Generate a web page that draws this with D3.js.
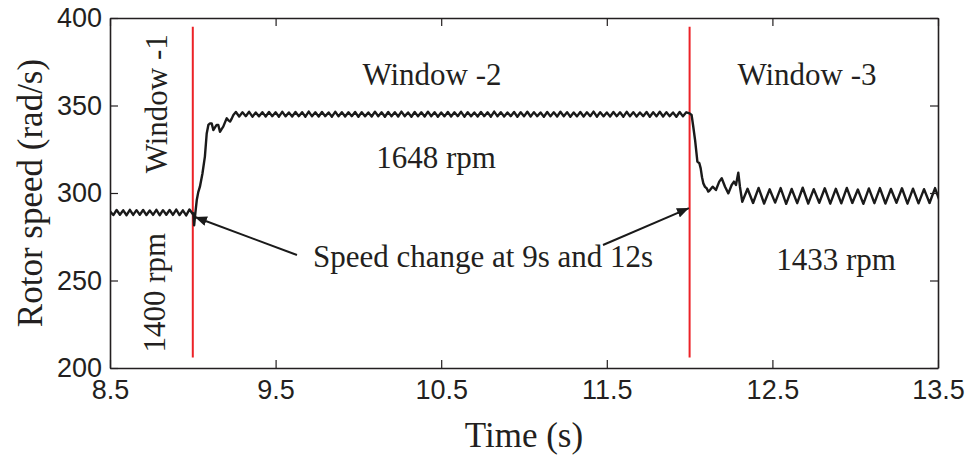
<!DOCTYPE html>
<html>
<head>
<meta charset="utf-8">
<script src="https://cdn.jsdelivr.net/npm/d3@7.9.0/dist/d3.min.js"></script>
<style>
  body { margin: 0; background: #fff; }
  svg { display: block; }
  .tick text { font-family: "Liberation Sans", Arial, sans-serif; font-size: 27px; fill: #231f20; }
  .ann { font-family: "Liberation Serif", "Times New Roman", serif; fill: #231f20; }
</style>
</head>
<body>
<svg id="chart" width="968" height="456"></svg>
<script>
// axis ticks
const xTicks = [8.5, 9.5, 10.5, 11.5, 12.5, 13.5];
const yTicks = [200, 250, 300, 350, 400];

// window 1 (1400 rpm), sampled every 0.02 s from 8.5 s
const win1Start = 8.5, win1Step = 0.02;
const win1Speed = [289.5, 287.4, 290.3, 287.6, 290.1, 287.3, 290.4, 287.5, 290.2, 287.6,
                   290.3, 287.4, 290.0, 287.5, 290.4, 287.3, 290.2, 287.6, 290.3, 287.5,
                   290.5, 287.4, 290.1, 287.2, 290.6, 288.0];

// step up at 9 s
const rise1Time = [9.003, 9.008, 9.016, 9.024, 9.033, 9.043, 9.058, 9.073, 9.084, 9.094,
                   9.104, 9.114, 9.124, 9.134, 9.144, 9.154, 9.164, 9.174, 9.184, 9.195,
                   9.205, 9.215, 9.225, 9.235, 9.245];
const rise1Speed = [288.4, 281.5, 289.0, 296.0, 300.5, 303.6, 311.0, 320.8, 334.0, 338.9,
                    339.8, 339.8, 336.0, 337.5, 338.9, 338.9, 335.0, 336.5, 337.9, 340.5,
                    342.7, 341.5, 340.8, 342.5, 344.6];

// window 2 (1648 rpm), every 0.02 s from 9.26 s
const win2Start = 9.26, win2Step = 0.02;
const win2Speed = [346.3, 343.7, 346.1, 343.9, 346.4, 343.6, 346.0, 343.8, 346.2, 343.7,
                   346.3, 343.9, 346.1, 343.6, 346.4, 343.8, 346.0, 343.7, 346.3, 343.9,
                   346.2, 343.6, 346.5, 343.8, 346.1, 343.7, 346.3, 343.9, 346.0, 343.6,
                   346.4, 343.8, 346.2, 343.7, 346.1, 343.9, 346.3, 343.6, 346.2, 343.8,
                   346.0, 343.7, 346.4, 343.9, 346.1, 343.6, 346.3, 343.8, 346.2, 343.7,
                   346.5, 343.9, 346.0, 343.6, 346.3, 343.8, 346.1, 343.7, 346.4, 343.9,
                   346.2, 343.6, 346.0, 343.8, 346.3, 343.7, 346.1, 343.9, 346.4, 343.6,
                   346.2, 343.8, 346.0, 343.7, 346.3, 343.9, 346.1, 343.6, 346.5, 343.8,
                   346.2, 343.7, 346.0, 343.9, 346.3, 343.6, 346.1, 343.8, 346.4, 343.7,
                   346.2, 343.9, 346.0, 343.6, 346.3, 343.8, 346.1, 343.7, 346.4, 343.9,
                   346.2, 343.6, 346.0, 343.8, 346.3, 343.7, 346.1, 343.9, 346.5, 343.6,
                   346.2, 343.8, 346.0, 343.7, 346.3, 343.9, 346.1, 343.6, 346.4, 343.8,
                   346.2, 343.7, 346.0, 343.9, 346.3, 343.6, 346.1, 343.8, 346.4, 343.7,
                   346.2, 343.9, 346.0, 343.6, 346.3, 343.8, 346.1, 345.5];

// step down at 12 s
const fall2Time = [12.012, 12.022, 12.033, 12.047, 12.059, 12.067, 12.075, 12.083, 12.093, 12.103,
                   12.113, 12.123, 12.139, 12.159, 12.179, 12.194, 12.214, 12.234, 12.254, 12.268,
                   12.280, 12.294, 12.304, 12.318];
const fall2Speed = [344.6, 338.0, 330.3, 317.9, 317.0, 314.1, 309.0, 305.5, 303.5, 302.7,
                    300.8, 301.7, 303.6, 301.7, 306.5, 308.4, 303.6, 299.8, 304.6, 306.5,
                    304.6, 311.6, 303.6, 295.0];

// window 3 (1433 rpm), every 0.0333 s from 12.35 s
const win3Start = 12.35, win3Step = 0.0333;
const win3Speed = [302.4, 294.3, 302.9, 294.0, 302.1, 294.5, 302.8, 293.8, 302.3, 294.2,
                   303.0, 294.0, 302.2, 294.4, 302.7, 293.9, 302.4, 294.1, 302.9, 294.3,
                   302.0, 293.8, 302.6, 294.2, 302.8, 294.0, 302.3, 294.4, 302.7, 293.9,
                   302.5, 294.1, 302.2, 294.3, 302.8, 294.0];

// markers and labels
const changeTimes = [9, 12];
const changeRange = [206, 395];
const arrowFrom = [[9.629, 264.6], [11.477, 270.3]];
const arrowTo = [[9.013, 286.3], [11.996, 291.4]];

const margin = { top: 18, right: 30, bottom: 88, left: 110 };
const width = 968 - margin.left - margin.right;
const height = 456 - margin.top - margin.bottom;

const svg = d3.select('#chart');
const g = svg.append('g').attr('transform', `translate(${margin.left},${margin.top})`);

const x = d3.scaleLinear().domain([8.5, 13.5]).range([0, width]);
const y = d3.scaleLinear().domain([200, 400]).range([height, 0]);

// build one series out of the pieces
let series = [];
win1Speed.forEach((v, i) => series.push([win1Start + i * win1Step, v]));
rise1Time.forEach((t, i) => series.push([t, rise1Speed[i]]));
win2Speed.forEach((v, i) => series.push([win2Start + i * win2Step, v]));
fall2Time.forEach((t, i) => series.push([t, fall2Speed[i]]));
win3Speed.forEach((v, i) => series.push([win3Start + i * win3Step, v]));

g.append('clipPath').attr('id', 'clip')
  .append('rect').attr('width', width).attr('height', height);

// red lines at speed change
g.selectAll('.change')
  .data(changeTimes)
  .join('line')
    .attr('x1', d => x(d)).attr('x2', d => x(d))
    .attr('y1', y(changeRange[0])).attr('y2', y(changeRange[1]))
    .attr('stroke', '#ec2227')
    .attr('stroke-width', 2);

const line = d3.line().x(d => x(d[0])).y(d => y(d[1]));
g.append('path')
  .datum(series)
  .attr('clip-path', 'url(#clip)')
  .attr('fill', 'none')
  .attr('stroke', '#1a1a1a')
  .attr('stroke-width', 2.4)
  .attr('stroke-linejoin', 'round')
  .attr('d', line);

// axes, ticks pointing inward on all four sides
const axisColor = '#231f20';
function styleAxis(sel) {
  sel.select('.domain').attr('stroke', axisColor).attr('stroke-width', 1.6);
  sel.selectAll('.tick line').attr('stroke', axisColor).attr('stroke-width', 1.2);
}
g.append('g').attr('transform', `translate(0,${height})`)
  .call(d3.axisBottom(x).tickValues(xTicks).tickSize(-8).tickSizeOuter(0).tickPadding(12).tickFormat(d3.format('.1f')))
  .call(styleAxis);
g.append('g')
  .call(d3.axisTop(x).tickValues(xTicks).tickSize(-8).tickSizeOuter(0).tickFormat(''))
  .call(styleAxis);
g.append('g')
  .call(d3.axisLeft(y).tickValues(yTicks).tickSize(-8).tickSizeOuter(0).tickPadding(8))
  .call(styleAxis);
g.append('g').attr('transform', `translate(${width},0)`)
  .call(d3.axisRight(y).tickValues(yTicks).tickSize(-8).tickSizeOuter(0).tickFormat(''))
  .call(styleAxis);

// axis titles
svg.append('text').attr('class', 'ann')
  .attr('x', margin.left + width / 2).attr('y', 447)
  .attr('text-anchor', 'middle').attr('font-size', 35)
  .text('Time (s)');
svg.append('text').attr('class', 'ann')
  .attr('transform', `translate(42,${margin.top + height / 2}) rotate(-90)`)
  .attr('text-anchor', 'middle').attr('font-size', 35)
  .text('Rotor speed (rad/s)');

// annotations (text baseline positions in data units)
const labels = [
  { text: 'Window -2', t: 10.444, v: 361.7, rot: false },
  { text: 'Window -3', t: 12.709, v: 361.7, rot: false },
  { text: '1648 rpm', t: 10.469, v: 314.3, rot: false },
  { text: '1433 rpm', t: 12.884, v: 256, rot: false },
  { text: 'Speed change at 9s and 12s', t: 9.726, v: 257.7, rot: false, anchor: 'start' },
  { text: 'Window -1', t: 8.846, v: 351, rot: true },
  { text: '1400 rpm', t: 8.834, v: 243, rot: true }
];
labels.forEach(d => {
  const t = g.append('text').attr('class', 'ann')
    .attr('font-size', 31)
    .attr('text-anchor', d.anchor || 'middle')
    .text(d.text);
  if (d.rot) t.attr('transform', `translate(${x(d.t)},${y(d.v)}) rotate(-90)`);
  else t.attr('x', x(d.t)).attr('y', y(d.v));
});

// arrows
svg.append('defs').append('marker')
  .attr('id', 'head')
  .attr('viewBox', '0 0 12 10')
  .attr('refX', 12).attr('refY', 5)
  .attr('markerWidth', 12).attr('markerHeight', 10)
  .attr('markerUnits', 'userSpaceOnUse')
  .attr('orient', 'auto')
  .append('path').attr('d', 'M0,0L12,5L0,10Z').attr('fill', '#1a1a1a');

g.selectAll('.arrow')
  .data(arrowFrom)
  .join('line')
    .attr('x1', d => x(d[0])).attr('y1', d => y(d[1]))
    .attr('x2', (d, i) => x(arrowTo[i][0])).attr('y2', (d, i) => y(arrowTo[i][1]))
    .attr('stroke', '#1a1a1a')
    .attr('stroke-width', 2)
    .attr('marker-end', 'url(#head)');
</script>
</body>
</html>
